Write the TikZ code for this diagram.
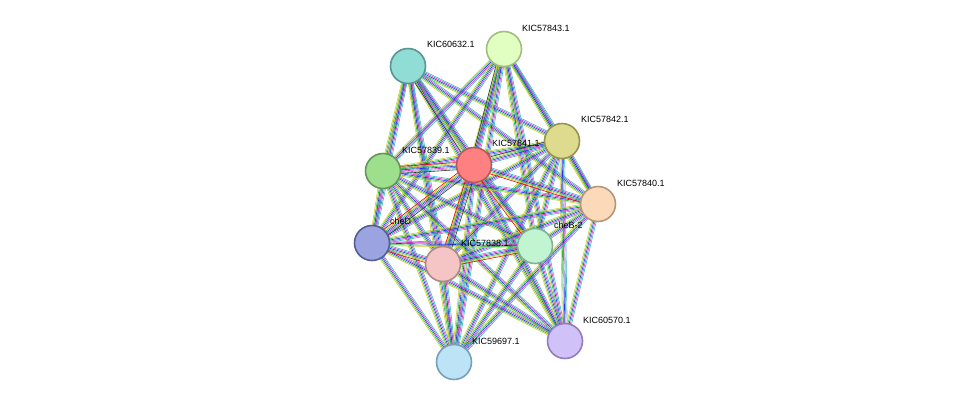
\documentclass[tikz,border=0pt]{standalone}
\usepackage{fontspec}
\setmainfont{Liberation Sans}
\usetikzlibrary{calc}
\begin{document}
\begin{tikzpicture}[x=1pt,y=-1pt,
  prot/.style={circle,draw,line width=1.6pt,minimum size=35pt,inner sep=0pt},
  lab/.style={anchor=west,font=\fontsize{9}{10}\selectfont,inner sep=0pt},
  ed/.style={line width=0.6pt}]
\useasboundingbox (0,0) rectangle (975,408);
\coordinate (n1) at (408,66);
\coordinate (n2) at (504,49);
\coordinate (n3) at (562,141);
\coordinate (n4) at (474,165);
\coordinate (n5) at (383,171);
\coordinate (n6) at (598,204);
\coordinate (n7) at (372,243);
\coordinate (n8) at (443,264);
\coordinate (n9) at (535,246);
\coordinate (n10) at (565,341);
\coordinate (n11) at (454,362);
\definecolor{eyel}{HTML}{CCCC33}
\definecolor{egrn}{HTML}{33BB33}
\definecolor{eblu}{HTML}{2233EE}
\definecolor{emag}{HTML}{CC33CC}
\definecolor{ecya}{HTML}{33BBBB}
\definecolor{eblk}{HTML}{333333}
\foreach \i in {1,...,11}{
  \foreach \j in {1,...,11}{
    \ifnum\j>\i
      \pgfmathtruncatemacro{\skip}{(\i==1 && \j==2) || (\i==10 && \j==11) ? 1 : 0}
      \ifnum\skip=0
      \foreach \c/\o in {eyel/-2.4,egrn/-1.2,eblu/0,emag/1.2,ecya/2.4}{
        \draw[ed,color=\c] ($(n\i)!\o pt!90:(n\j)$) -- ($(n\j)!\o pt!-90:(n\i)$);
      }
      \fi
    \fi
  }
}
\foreach \i in {1,2,3,5,7,8}{
  \draw[ed,eblk] ($(n4)!3.6pt!90:(n\i)$) -- ($(n\i)!3.6pt!-90:(n4)$);
}
\foreach \i in {5,7,8,9,6}{
  \draw[ed,red] ($(n4)!-3.6pt!90:(n\i)$) -- ($(n\i)!-3.6pt!-90:(n4)$);
}
\draw[ed,red] ($(n7)!-3.6pt!90:(n8)$) -- ($(n8)!-3.6pt!-90:(n7)$);
\draw[ed,red] ($(n8)!-3.6pt!90:(n9)$) -- ($(n9)!-3.6pt!-90:(n8)$);
\node[prot,fill={rgb,255:red,143;green,221;blue,212},draw={rgb,255:red,90;green,150;blue,145}] (p1) at (n1) {};
\node[prot,fill={rgb,255:red,224;green,255;blue,192},draw={rgb,255:red,160;green,190;blue,130}] (p2) at (n2) {};
\node[prot,fill={rgb,255:red,222;green,219;blue,142},draw={rgb,255:red,150;green,148;blue,80}] (p3) at (n3) {};
\node[prot,fill={rgb,255:red,255;green,128;blue,128},draw={rgb,255:red,180;green,90;blue,90}] (p4) at (n4) {};
\node[prot,fill={rgb,255:red,158;green,223;blue,142},draw={rgb,255:red,100;green,150;blue,90}] (p5) at (n5) {};
\node[prot,fill={rgb,255:red,252;green,217;blue,185},draw={rgb,255:red,180;green,150;blue,125}] (p6) at (n6) {};
\node[prot,fill={rgb,255:red,155;green,163;blue,224},draw={rgb,255:red,85;green,95;blue,150}] (p7) at (n7) {};
\node[prot,fill={rgb,255:red,245;green,197;blue,197},draw={rgb,255:red,175;green,135;blue,135}] (p8) at (n8) {};
\node[prot,fill={rgb,255:red,193;green,245;blue,209},draw={rgb,255:red,135;green,175;blue,145}] (p9) at (n9) {};
\node[prot,fill={rgb,255:red,209;green,193;blue,249},draw={rgb,255:red,145;green,125;blue,190}] (p10) at (n10) {};
\node[prot,fill={rgb,255:red,189;green,227;blue,247},draw={rgb,255:red,120;green,160;blue,185}] (p11) at (n11) {};
\node[lab] (l1) at (427,44) {KIC60632.1};
\node[lab] (l2) at (522,28) {KIC57843.1};
\node[lab] (l3) at (581,119) {KIC57842.1};
\node[lab] (l4) at (492,143) {KIC57841.1};
\node[lab] (l5) at (402,150) {KIC57839.1};
\node[lab] (l6) at (617,183) {KIC57840.1};
\node[lab] (l7) at (390,221) {cheD};
\node[lab] (l8) at (461,243) {KIC57838.1};
\node[lab] (l9) at (554,225) {cheB-2};
\node[lab] (l10) at (583,320) {KIC60570.1};
\node[lab] (l11) at (472,341) {KIC59697.1};
\end{tikzpicture}
\end{document}
